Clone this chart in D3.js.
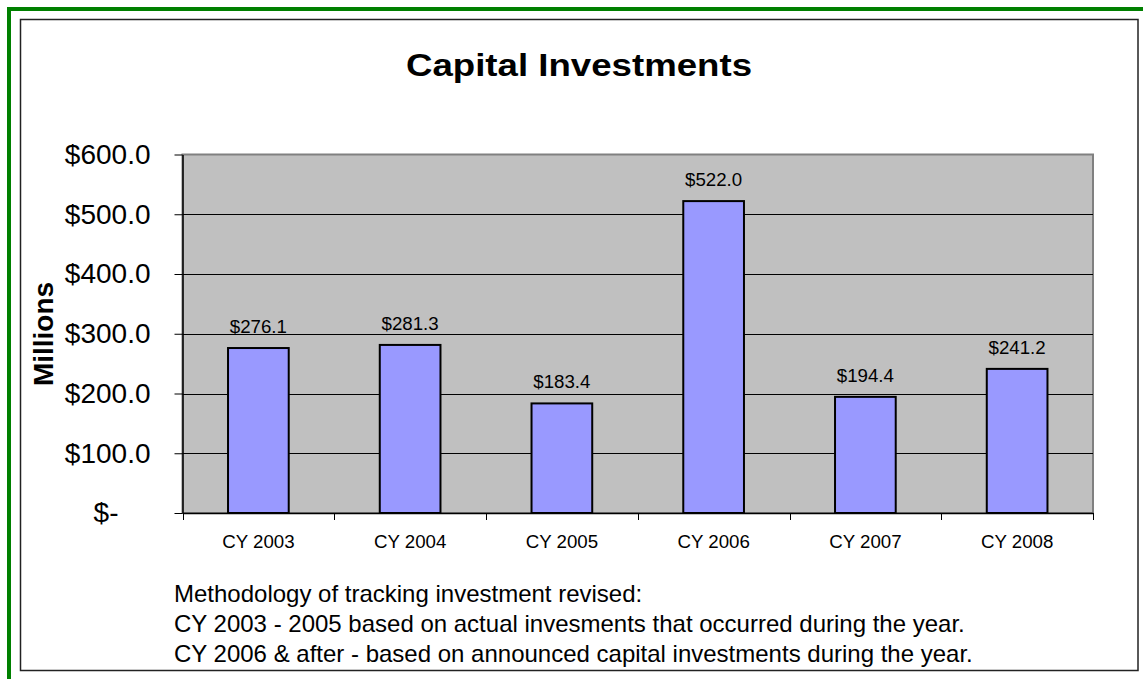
<!DOCTYPE html>
<html>
<head>
<meta charset="utf-8">
<script src="https://cdn.jsdelivr.net/npm/d3@7"></script>
<style>
  html, body { margin: 0; padding: 0; background: #fff; }
  svg { display: block; font-family: "Liberation Sans", Arial, sans-serif; }
</style>
</head>
<body>
<svg id="chart"></svg>
<script>
// Données du graphique
const years = ["CY 2003", "CY 2004", "CY 2005", "CY 2006", "CY 2007", "CY 2008"];
const investments = [276.1, 281.3, 183.4, 522.0, 194.4, 241.2];
const yTicks = [0, 100, 200, 300, 400, 500, 600];
const notes = [
    "Methodology of tracking investment revised:",
    "CY 2003 - 2005 based on actual invesments that occurred during the year.",
    "CY 2006 & after - based on announced capital investments during the year."
];

const width = 1143, height = 679;
const svg = d3.select("#chart").attr("width", width).attr("height", height);

// Cadre vert extérieur (coupé à droite et en bas)
svg.append("rect")
    .attr("x", 9).attr("y", 9)
    .attr("width", width).attr("height", height)
    .attr("fill", "none")
    .attr("stroke", "#008000")
    .attr("stroke-width", 4);

// Cadre noir de la zone du graphique
svg.append("rect")
    .attr("x", 20.5).attr("y", 19.5)
    .attr("width", 1117.5).attr("height", 651)
    .attr("fill", "#fff")
    .attr("stroke", "#222")
    .attr("stroke-width", 1.5);

// Titre
svg.append("text")
    .attr("x", 579).attr("y", 76)
    .attr("text-anchor", "middle")
    .attr("font-size", 32)
    .attr("font-weight", "bold")
    .attr("textLength", 346)
    .attr("lengthAdjust", "spacingAndGlyphs")
    .text("Capital Investments");

// Zone de tracé
const plot = { left: 182.5, right: 1093, top: 154.5, bottom: 513 };

const x = d3.scaleBand()
    .domain(years)
    .range([plot.left, plot.right])
    .paddingInner(0.6)
    .paddingOuter(0.3);

const y = d3.scaleLinear()
    .domain([0, 600])
    .range([plot.bottom, plot.top]);

// Fond gris
svg.append("rect")
    .attr("x", plot.left).attr("y", plot.top)
    .attr("width", plot.right - plot.left)
    .attr("height", plot.bottom - plot.top)
    .attr("fill", "#c0c0c0")
    .attr("stroke", "#808080")
    .attr("stroke-width", 2);

// Lignes de quadrillage
svg.append("g")
    .selectAll("line")
    .data(yTicks.filter(d => d > 0 && d < 600))
    .enter().append("line")
    .attr("x1", plot.left).attr("x2", plot.right)
    .attr("y1", d => Math.round(y(d)) + 0.5)
    .attr("y2", d => Math.round(y(d)) + 0.5)
    .attr("stroke", "#000")
    .attr("stroke-width", 1);

// Barres
svg.append("g")
    .selectAll("rect")
    .data(investments)
    .enter().append("rect")
    .attr("x", (d, i) => x(years[i]))
    .attr("y", d => y(d))
    .attr("width", x.bandwidth())
    .attr("height", d => plot.bottom - y(d))
    .attr("fill", "#9999ff")
    .attr("stroke", "#000")
    .attr("stroke-width", 2);

// Étiquettes de valeurs
svg.append("g")
    .selectAll("text")
    .data(investments)
    .enter().append("text")
    .attr("x", (d, i) => x(years[i]) + x.bandwidth() / 2)
    .attr("y", d => y(d) - 15)
    .attr("text-anchor", "middle")
    .attr("font-size", 18.7)
    .text(d => "$" + d.toFixed(1));

// Axe Y
const yAxis = svg.append("g")
    .attr("transform", `translate(${plot.left},0)`)
    .call(d3.axisLeft(y)
        .tickValues(yTicks)
        .tickSizeInner(8)
        .tickSizeOuter(0)
        .tickPadding(24)
        .tickFormat(d => d === 0 ? "$-" : "$" + d.toFixed(1)));
yAxis.select(".domain").attr("stroke", "#000").attr("stroke-width", 1.5);
yAxis.selectAll(".tick line").attr("stroke", "#000");
yAxis.selectAll(".tick text")
    .attr("font-size", 28)
    .attr("font-family", "Liberation Sans, Arial, sans-serif")
    .attr("fill", "#000")
    .attr("dx", d => d === 0 ? -32 : 0);

// Axe X : étiquettes centrées, graduations entre catégories
const xAxis = svg.append("g")
    .attr("transform", `translate(0,${plot.bottom})`)
    .call(d3.axisBottom(x).tickSize(0).tickPadding(22));
xAxis.select(".domain").attr("stroke", "#000").attr("stroke-width", 1.5);
xAxis.selectAll(".tick text")
    .attr("font-size", 18.7)
    .attr("font-family", "Liberation Sans, Arial, sans-serif")
    .attr("fill", "#000");

const bounds = d3.scaleLinear().domain([0, years.length]).range([plot.left, plot.right]);
svg.append("g")
    .selectAll("line")
    .data(d3.range(years.length + 1))
    .enter().append("line")
    .attr("x1", d => Math.round(bounds(d)) + 0.5)
    .attr("x2", d => Math.round(bounds(d)) + 0.5)
    .attr("y1", plot.bottom)
    .attr("y2", plot.bottom + 7)
    .attr("stroke", "#000");

// Titre de l'axe Y
svg.append("text")
    .attr("transform", "translate(53,334) rotate(-90)")
    .attr("text-anchor", "middle")
    .attr("font-size", 28)
    .attr("font-weight", "bold")
    .text("Millions");

// Notes sur la méthodologie
svg.append("g")
    .selectAll("text")
    .data(notes)
    .enter().append("text")
    .attr("x", 174)
    .attr("y", (d, i) => 602 + i * 30)
    .attr("font-size", 24)
    .text(d => d);
</script>
</body>
</html>
